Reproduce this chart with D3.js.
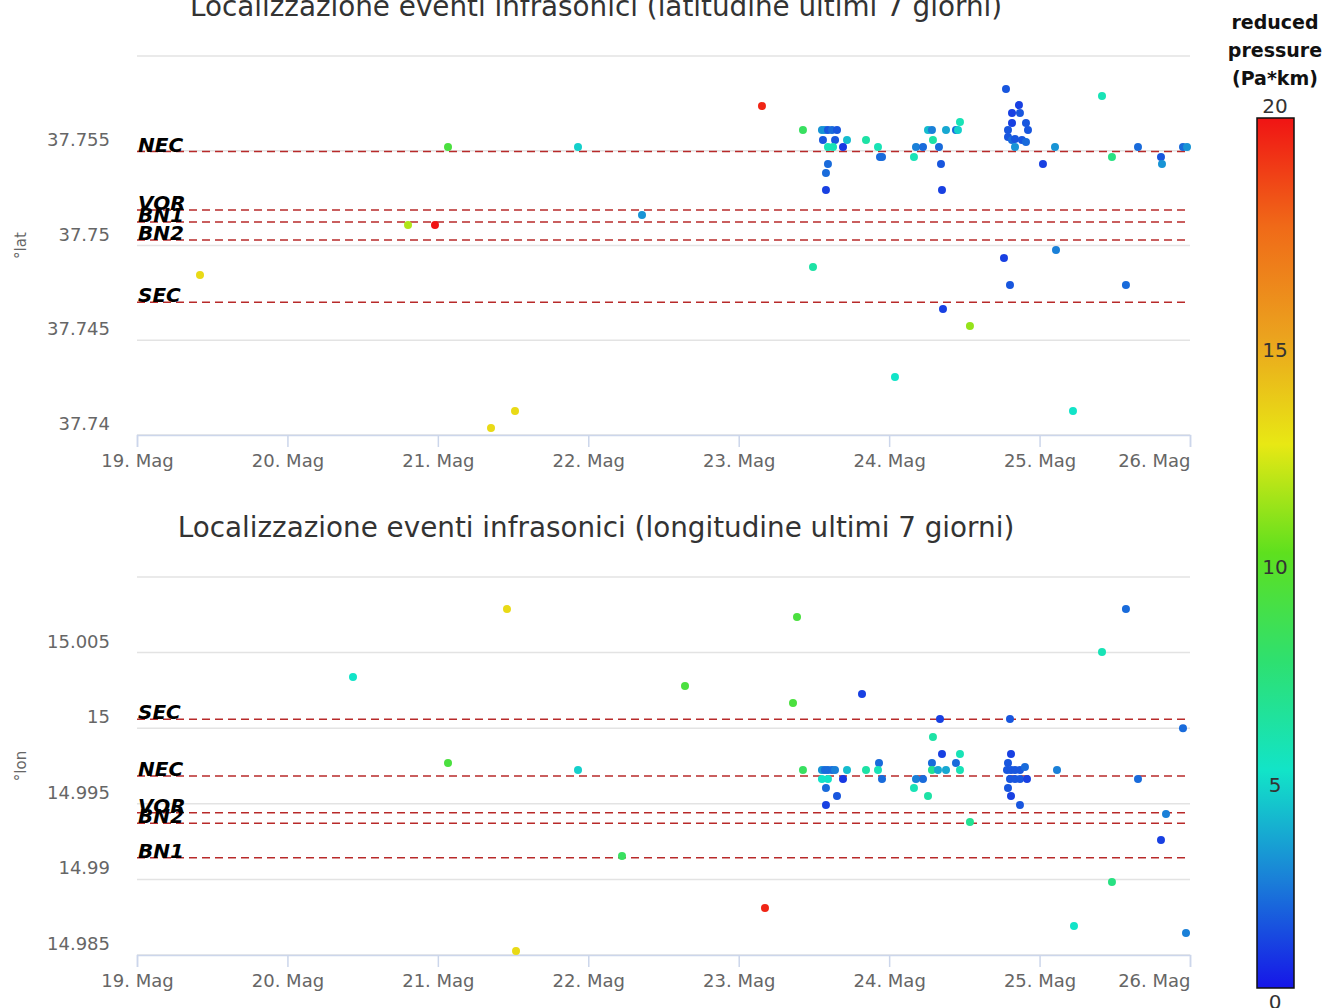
<!DOCTYPE html>
<html>
<head>
<meta charset="utf-8">
<script src="https://cdn.jsdelivr.net/npm/d3@7"></script>
<style>
  body { margin: 0; background: #fff; }
  text { font-family: "DejaVu Sans", "Lucida Grande", sans-serif; }
</style>
</head>
<body>
<div id="chart"></div>
<script>
// inizio finestra temporale (ultimi 7 giorni)
const startDate = new Date(2016, 4, 19);
const dayCount = 7;
const monthLabel = "Mag";

const stationNames = ["NEC", "VOR", "BN1", "BN2", "SEC"];
const stationLat = [37.75496, 37.75187, 37.75124, 37.75029, 37.7470];
const stationLon = [14.99684, 14.99441, 14.99144, 14.99371, 15.0006];

const latTicks = [37.74, 37.745, 37.75, 37.755, 37.76];
const lonTicks = [14.985, 14.99, 14.995, 15, 15.005, 15.01];

const colorValues = [0, 2.5, 5, 7.5, 10, 12.5, 15, 17.5, 20];
const colorList = ["#1616e8", "#1a80d8", "#12e4c8", "#2ee070", "#5ee01e", "#e8e814", "#eba21e", "#f06a18", "#f01414"];
const colorTicks = [0, 5, 10, 15, 20];

// [ore dall'inizio, latitudine, pressione ridotta]
const latEvents = [
    [10.05, 37.74844, 13], [43.24, 37.75108, 11.5], [47.54, 37.75108, 20], [49.62, 37.75520, 9],
    [56.48, 37.74037, 13], [60.31, 37.74127, 13], [70.36, 37.75520, 4.5], [80.57, 37.75161, 3],
    [99.71, 37.75736, 19.5], [106.25, 37.75609, 8], [107.85, 37.74887, 6], [109.28, 37.75609, 3],
    [109.76, 37.75609, 3], [110.24, 37.75609, 1.5], [110.88, 37.75609, 2], [111.68, 37.75609, 1.5],
    [109.44, 37.75557, 1.5], [111.37, 37.75557, 1.5], [113.28, 37.75557, 4], [110.24, 37.75520, 5.5],
    [111.05, 37.75520, 5.5], [112.64, 37.75520, 0.8], [110.24, 37.75430, 2], [109.92, 37.75383, 2],
    [109.92, 37.75293, 1], [116.31, 37.75557, 6], [118.22, 37.75520, 5.5], [118.54, 37.75467, 2],
    [118.86, 37.75467, 2], [123.96, 37.75467, 5.5], [124.28, 37.75520, 2.5], [125.40, 37.75520, 2],
    [126.20, 37.75609, 4], [126.83, 37.75609, 2.5], [126.99, 37.75557, 6], [127.95, 37.75520, 2],
    [128.27, 37.75430, 1.5], [128.43, 37.75293, 1], [129.07, 37.75609, 3.5], [130.66, 37.75609, 2],
    [130.98, 37.75609, 4.5], [131.30, 37.75652, 5.5], [138.32, 37.74934, 1], [139.28, 37.74792, 1.5],
    [157.78, 37.74792, 2], [128.59, 37.74665, 1], [132.89, 37.74575, 11], [120.93, 37.74306, 5],
    [149.33, 37.74127, 5], [146.62, 37.74976, 2.5], [138.64, 37.75826, 1.5], [140.71, 37.75741, 1],
    [139.60, 37.75699, 1], [140.87, 37.75699, 1.5], [139.60, 37.75646, 1], [141.83, 37.75646, 1.5],
    [138.96, 37.75609, 1.5], [142.15, 37.75609, 1.5], [138.96, 37.75573, 1.5], [139.60, 37.75557, 2],
    [140.08, 37.75562, 1.5], [141.19, 37.75557, 1.5], [141.83, 37.75546, 2], [140.08, 37.75520, 3],
    [144.54, 37.75430, 1], [146.46, 37.75520, 3], [153.96, 37.75789, 5.5], [155.55, 37.75467, 7],
    [159.70, 37.75520, 2], [163.37, 37.75467, 1.5], [163.53, 37.75430, 3], [166.88, 37.75520, 2],
    [167.52, 37.75520, 3]
];

// [ore dall'inizio, longitudine, pressione ridotta]
const lonEvents = [
    [34.46, 15.00339, 5], [49.62, 14.99770, 9], [59.03, 15.00788, 13], [60.47, 14.98526, 13],
    [70.36, 14.99724, 4.5], [77.38, 14.99155, 8], [87.43, 15.00279, 9], [100.19, 14.98811, 19.5],
    [104.66, 15.00167, 9], [105.30, 15.00735, 9], [115.67, 15.00226, 1], [128.11, 15.00061, 1],
    [139.28, 15.00061, 1.5], [157.78, 15.00788, 2], [153.96, 15.00504, 5.5], [166.88, 15.00000, 2],
    [159.70, 14.99664, 2], [126.99, 14.99942, 6], [128.43, 14.99829, 1], [131.30, 14.99829, 5.5],
    [118.38, 14.99770, 2], [126.83, 14.99770, 2], [130.66, 14.99770, 2], [106.25, 14.99724, 8],
    [109.28, 14.99724, 3], [109.76, 14.99724, 2], [110.24, 14.99724, 2], [110.88, 14.99724, 2],
    [111.36, 14.99724, 2.5], [113.28, 14.99724, 4], [116.31, 14.99724, 6], [118.22, 14.99724, 5.5],
    [126.83, 14.99724, 6.5], [127.79, 14.99724, 3.5], [129.07, 14.99724, 3.5], [131.30, 14.99724, 5.5],
    [146.78, 14.99724, 2.5], [109.28, 14.99664, 5], [110.24, 14.99664, 5], [112.64, 14.99664, 0.8],
    [118.86, 14.99664, 2], [124.28, 14.99664, 2.5], [125.40, 14.99664, 2], [109.92, 14.99605, 2],
    [111.68, 14.99552, 1.5], [109.92, 14.99492, 1], [123.96, 14.99605, 5.5], [126.20, 14.99552, 6],
    [132.89, 14.99380, 6.5], [139.44, 14.99829, 1], [138.96, 14.99770, 1.5], [138.80, 14.99724, 1.5],
    [139.44, 14.99724, 1.5], [140.08, 14.99724, 1.5], [140.87, 14.99724, 1.5], [141.67, 14.99743, 2],
    [139.28, 14.99664, 1.5], [140.08, 14.99664, 1.5], [140.87, 14.99664, 1.5], [141.99, 14.99664, 1],
    [138.96, 14.99605, 1.5], [139.44, 14.99552, 1], [140.87, 14.99492, 1.5], [164.17, 14.99433, 2.5],
    [163.37, 14.99261, 1], [155.55, 14.98983, 7], [149.49, 14.98692, 5], [167.36, 14.98645, 2.5]
];

const width = 1327;
const height = 1008;
const plotLeft = 137;
const plotRight = 1190;

const svg = d3.select("#chart")
    .append("svg")
    .attr("width", width)
    .attr("height", height)
    .style("display", "block");

const color = d3.scaleLinear()
    .domain(colorValues)
    .range(colorList)
    .clamp(true);

const endDate = d3.timeDay.offset(startDate, dayCount);
const x = d3.scaleTime()
    .domain([startDate, endDate])
    .range([plotLeft, plotRight]);

const toDate = h => new Date(startDate.getTime() + h * 3600 * 1000);

/**
 * Disegna un pannello (latitudine o longitudine)
 */
function drawPanel(cfg) {
    const y = d3.scaleLinear()
        .domain(d3.extent(cfg.ticks))
        .range([cfg.bottom, cfg.top]);

    const g = svg.append("g");

    g.append("text")
        .attr("x", 596)
        .attr("y", cfg.titleY)
        .attr("text-anchor", "middle")
        .style("font-size", "27.8px")
        .style("fill", "#333")
        .text(cfg.title);

    // griglia orizzontale
    g.selectAll(".grid")
        .data(cfg.ticks)
        .enter()
        .append("line")
        .attr("x1", plotLeft)
        .attr("x2", plotRight)
        .attr("y1", d => y(d))
        .attr("y2", d => y(d))
        .attr("stroke", "#e3e3e3")
        .attr("stroke-width", 1.5);

    g.selectAll(".ylabel")
        .data(cfg.ticks.slice(0, -1))
        .enter()
        .append("text")
        .attr("x", 110)
        .attr("y", d => y(d) - 5)
        .attr("text-anchor", "end")
        .style("font-size", "18px")
        .style("fill", "#666")
        .text(d => d);

    g.append("text")
        .attr("transform", `translate(26, ${(cfg.top + cfg.bottom) / 2}) rotate(-90)`)
        .attr("text-anchor", "middle")
        .style("font-size", "15px")
        .style("fill", "#666")
        .text(cfg.axisTitle);

    // asse x
    const xAxis = d3.axisBottom(x)
        .tickValues(d3.timeDay.range(startDate, d3.timeDay.offset(endDate, 1)))
        .tickSize(12)
        .tickFormat(d => `${d.getDate()}. ${monthLabel}`);

    const ax = g.append("g")
        .attr("transform", `translate(0, ${cfg.bottom})`)
        .call(xAxis);
    ax.select(".domain").attr("stroke", "#ccd6eb").attr("stroke-width", 1.5);
    ax.selectAll(".tick line").attr("stroke", "#ccd6eb").attr("stroke-width", 1.5);
    ax.selectAll(".tick text")
        .attr("y", 32)
        .attr("dy", 0)
        .style("font-size", "18px")
        .style("font-family", "DejaVu Sans")
        .style("fill", "#666");
    ax.selectAll(".tick:last-of-type text").attr("text-anchor", "end");

    // stazioni
    cfg.stations.forEach(s => {
        g.append("line")
            .attr("x1", plotLeft)
            .attr("x2", plotRight)
            .attr("y1", y(s))
            .attr("y2", y(s))
            .attr("stroke", "#b82a2a")
            .attr("stroke-width", 1.5)
            .attr("stroke-dasharray", "8,5");
    });
    cfg.stations.forEach((s, i) => {
        g.append("text")
            .attr("x", 138)
            .attr("y", y(s))
            .style("font-size", "20px")
            .style("font-weight", "bold")
            .style("font-style", "italic")
            .style("fill", "#000")
            .text(stationNames[i]);
    });

    g.selectAll(".dot")
        .data(cfg.events)
        .enter()
        .append("circle")
        .attr("cx", d => x(toDate(d[0])))
        .attr("cy", d => y(d[1]))
        .attr("r", 4)
        .attr("fill", d => color(d[2]));
}

drawPanel({
    title: "Localizzazione eventi infrasonici (latitudine ultimi 7 giorni)",
    titleY: 16,
    axisTitle: "°lat",
    ticks: latTicks,
    top: 56,
    bottom: 435,
    stations: stationLat,
    events: latEvents
});

drawPanel({
    title: "Localizzazione eventi infrasonici (longitudine ultimi 7 giorni)",
    titleY: 537,
    axisTitle: "°lon",
    ticks: lonTicks,
    top: 577,
    bottom: 955,
    stations: stationLon,
    events: lonEvents
});

// barra dei colori
const barX = 1257, barW = 37, barTop = 118, barBottom = 988;
const cScale = d3.scaleLinear().domain([0, 20]).range([barBottom, barTop]);

const grad = svg.append("defs")
    .append("linearGradient")
    .attr("id", "cbar")
    .attr("x1", 0).attr("y1", 1)
    .attr("x2", 0).attr("y2", 0);
colorValues.forEach((v, i) => {
    grad.append("stop")
        .attr("offset", v / 20)
        .attr("stop-color", colorList[i]);
});

svg.append("rect")
    .attr("x", barX)
    .attr("y", barTop)
    .attr("width", barW)
    .attr("height", barBottom - barTop)
    .attr("fill", "url(#cbar)")
    .attr("stroke", "#111")
    .attr("stroke-width", 1.5);

svg.selectAll(".clabel")
    .data(colorTicks)
    .enter()
    .append("text")
    .attr("x", 1275)
    .attr("y", d => d === 20 ? cScale(d) - 5 : cScale(d) + 21)
    .attr("text-anchor", "middle")
    .style("font-size", "20px")
    .style("fill", "#333")
    .text(d => d);

["reduced", "pressure", "(Pa*km)"].forEach((t, i) => {
    svg.append("text")
        .attr("x", 1275)
        .attr("y", 29 + i * 28)
        .attr("text-anchor", "middle")
        .style("font-size", "19px")
        .style("font-weight", "bold")
        .style("fill", "#111")
        .text(t);
});
</script>
</body>
</html>
